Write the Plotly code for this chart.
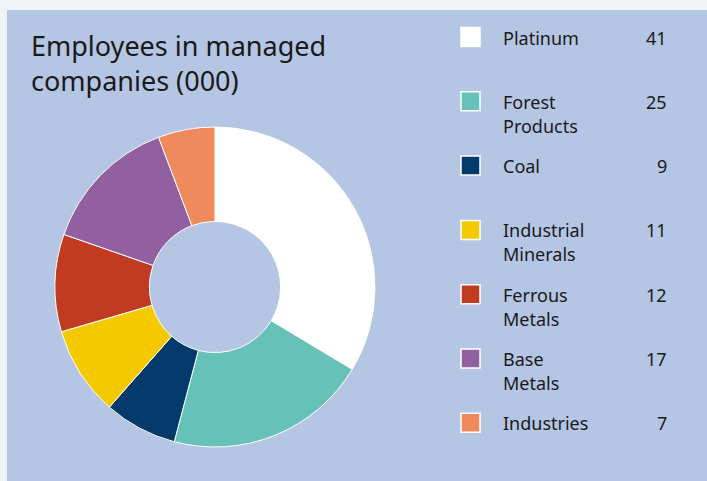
import plotly.graph_objects as go

categories = ["Platinum", "Forest<br>Products", "Coal", "Industrial<br>Minerals",
              "Ferrous<br>Metals", "Base<br>Metals", "Industries"]
employees = [41, 25, 9, 11, 12, 17, 7]
colors = ["#ffffff", "#66c2b9", "#033a6b", "#f5c900", "#c03b22", "#9260a1", "#f08a5c"]
title_text = "Employees in managed<br>companies (000)"

W, H = 707, 481
FONT = "Noto Sans"
TXT = "#1a1a1a"

def px(x):
    return x / W

def py(y):
    return 1 - y / H

fig = go.Figure()
cx, cy, r = 215, 287, 160
fig.add_trace(go.Pie(
    labels=categories, values=employees, sort=False, direction="clockwise",
    rotation=0, hole=0.41, textinfo="none", hoverinfo="label+value",
    marker=dict(colors=colors, line=dict(color="#ffffff", width=1)),
    domain=dict(x=[px(cx - r), px(cx + r)], y=[py(cy + r), py(cy - r)]),
    showlegend=False,
))

shapes = [dict(type="rect", xref="paper", yref="paper", x0=px(7), x1=1.0, y0=0, y1=py(10),
               fillcolor="#b5c5e4", line=dict(width=0), layer="below")]
annotations = [dict(text=title_text, x=px(29), y=py(25), xref="paper", yref="paper",
                    xanchor="left", yanchor="top", align="left", showarrow=False,
                    font=dict(family=FONT, size=27, color=TXT))]

row0, step = 37, 64.3
for i, (lab, val, col) in enumerate(zip(categories, employees, colors)):
    yc = row0 + step * i
    shapes.append(dict(type="rect", xref="paper", yref="paper",
                       x0=px(461), x1=px(480), y0=py(yc + 9.5), y1=py(yc - 9.5),
                       fillcolor=col, line=dict(color="#ffffff", width=1.5)))
    for j, part in enumerate(lab.split("<br>")):
        annotations.append(dict(text=part, x=px(501), y=py(yc + 0.5 + 24 * j), xref="paper",
                                yref="paper", xanchor="left", yanchor="middle", align="left",
                                showarrow=False, font=dict(family=FONT, size=18, color=TXT)))
    annotations.append(dict(text=str(val), x=px(669), y=py(yc + 0.5), xref="paper", yref="paper",
                            xanchor="right", yanchor="middle", align="right", showarrow=False,
                            font=dict(family=FONT, size=18, color=TXT)))

fig.update_layout(
    width=W, height=H, margin=dict(l=0, r=0, t=0, b=0),
    paper_bgcolor="#f1f3f7", plot_bgcolor="#f1f3f7",
    shapes=shapes, annotations=annotations,
)
fig.write_html("out.html", config={"displayModeBar": False},
               post_script="document.body.style.margin='0';document.body.style.overflow='hidden';")
